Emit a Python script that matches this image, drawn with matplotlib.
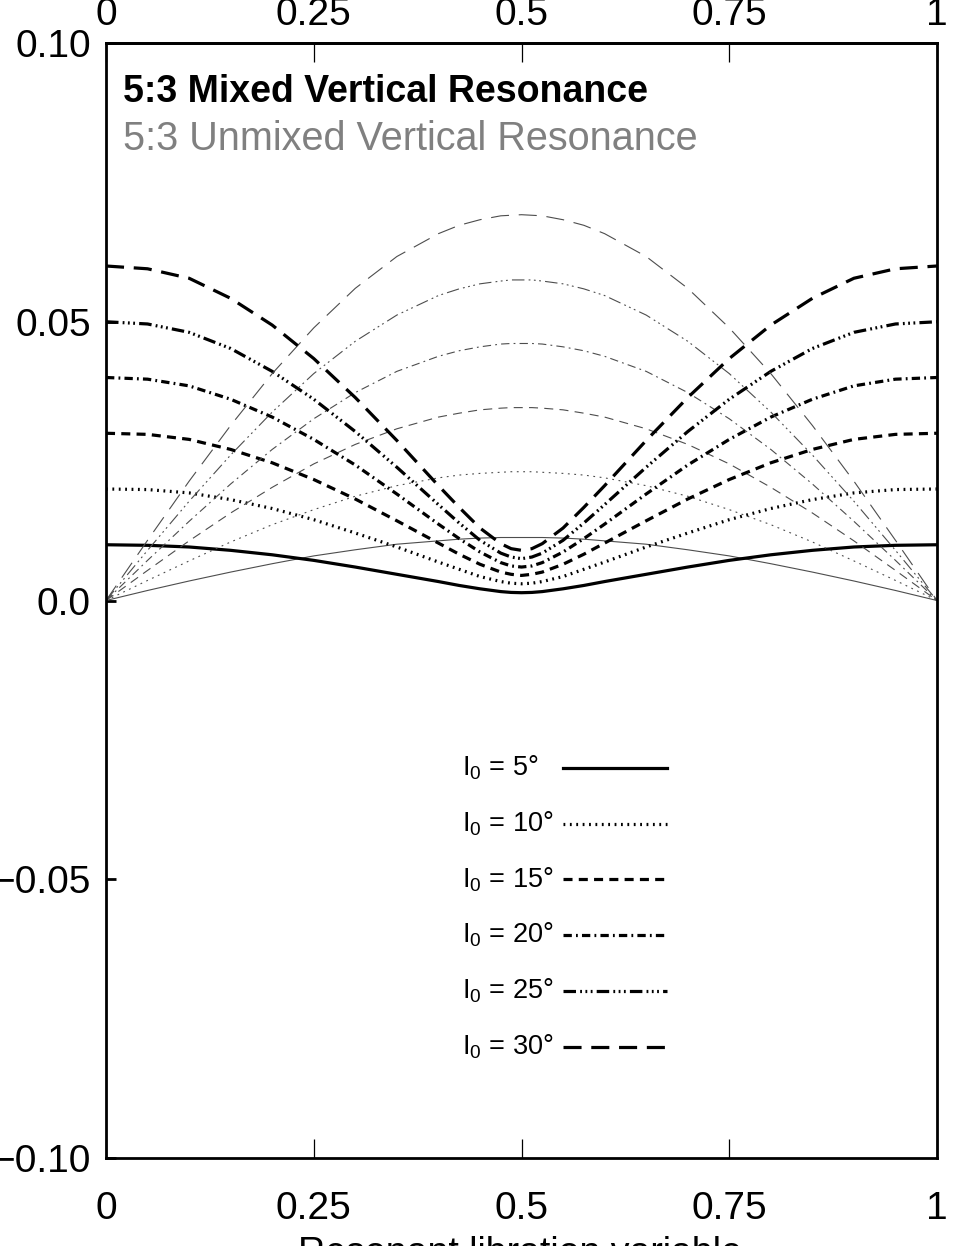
import matplotlib
matplotlib.use("Agg")
import matplotlib.pyplot as plt
from matplotlib.ticker import FixedLocator, FixedFormatter

plt.rcParams['font.family'] = ['Liberation Sans', 'DejaVu Sans']
plt.rcParams['mathtext.fontset'] = 'custom'
plt.rcParams['mathtext.rm'] = 'Liberation Sans'
plt.rcParams['lines.scale_dashes'] = False

#------------------------------
#   Data
#------------------------------

x_vals = [0.0, 0.05, 0.1, 0.15, 0.2, 0.25, 0.3, 0.35, 0.4, 0.425, 0.45, 0.475, 0.4875, 0.5,
          0.5125, 0.525, 0.55, 0.575, 0.6, 0.65, 0.7, 0.75, 0.8, 0.85, 0.9, 0.95, 1.0]

inclinations = [5, 10, 15, 20, 25, 30]

# mixed resonance (thick curves)
mixed_5 = [0.0100, 0.0099, 0.0096, 0.0090, 0.0082, 0.0072, 0.0060, 0.0047, 0.0034, 0.0027, 0.0021, 0.0016, 0.00145, 0.0014,
           0.00145, 0.0016, 0.0021, 0.0027, 0.0034, 0.0047, 0.0060, 0.0072, 0.0082, 0.0090, 0.0096, 0.0099, 0.0100]
mixed_10 = [0.0200, 0.0199, 0.0193, 0.0181, 0.0165, 0.0145, 0.0121, 0.0096, 0.0069, 0.0056, 0.0043, 0.0034, 0.0031, 0.0030,
            0.0031, 0.0034, 0.0043, 0.0056, 0.0069, 0.0096, 0.0121, 0.0145, 0.0165, 0.0181, 0.0193, 0.0199, 0.0200]
mixed_15 = [0.0300, 0.0298, 0.0289, 0.0271, 0.0247, 0.0217, 0.0182, 0.0143, 0.0103, 0.0083, 0.0065, 0.0051, 0.0047, 0.0045,
            0.0047, 0.0051, 0.0065, 0.0083, 0.0103, 0.0143, 0.0182, 0.0217, 0.0247, 0.0271, 0.0289, 0.0298, 0.0300]
mixed_20 = [0.0400, 0.0397, 0.0385, 0.0361, 0.0329, 0.0289, 0.0243, 0.0191, 0.0137, 0.0111, 0.0087, 0.0068, 0.0062, 0.0060,
            0.0062, 0.0068, 0.0087, 0.0111, 0.0137, 0.0191, 0.0243, 0.0289, 0.0329, 0.0361, 0.0385, 0.0397, 0.0400]
mixed_25 = [0.0500, 0.0496, 0.0481, 0.0452, 0.0411, 0.0361, 0.0303, 0.0239, 0.0172, 0.0139, 0.0108, 0.0085, 0.0078, 0.0075,
            0.0078, 0.0085, 0.0108, 0.0139, 0.0172, 0.0239, 0.0303, 0.0361, 0.0411, 0.0452, 0.0481, 0.0496, 0.0500]
mixed_30 = [0.0600, 0.0595, 0.0578, 0.0542, 0.0494, 0.0434, 0.0364, 0.0287, 0.0206, 0.0167, 0.0130, 0.0102, 0.0093, 0.0090,
            0.0093, 0.0102, 0.0130, 0.0167, 0.0206, 0.0287, 0.0364, 0.0434, 0.0494, 0.0542, 0.0578, 0.0595, 0.0600]

# unmixed resonance (thin curves)
unmixed_5 = [0.0, 0.0018, 0.0035, 0.0051, 0.0066, 0.0080, 0.0091, 0.0101, 0.0107, 0.0110, 0.0112, 0.0113, 0.0113, 0.0113,
             0.0113, 0.0113, 0.0112, 0.0110, 0.0107, 0.0101, 0.0091, 0.0080, 0.0066, 0.0051, 0.0035, 0.0018, 0.0]
unmixed_10 = [0.0, 0.0036, 0.0071, 0.0105, 0.0136, 0.0163, 0.0187, 0.0206, 0.0220, 0.0225, 0.0228, 0.0230, 0.0231, 0.0231,
              0.0231, 0.0230, 0.0228, 0.0225, 0.0220, 0.0206, 0.0187, 0.0163, 0.0136, 0.0105, 0.0071, 0.0036, 0.0]
unmixed_15 = [0.0, 0.0054, 0.0107, 0.0157, 0.0203, 0.0245, 0.0280, 0.0308, 0.0329, 0.0336, 0.0342, 0.0345, 0.0346, 0.0346,
              0.0346, 0.0345, 0.0342, 0.0336, 0.0329, 0.0308, 0.0280, 0.0245, 0.0203, 0.0157, 0.0107, 0.0054, 0.0]
unmixed_20 = [0.0, 0.0072, 0.0142, 0.0209, 0.0271, 0.0326, 0.0373, 0.0411, 0.0438, 0.0448, 0.0455, 0.0460, 0.0461, 0.0461,
              0.0461, 0.0460, 0.0455, 0.0448, 0.0438, 0.0411, 0.0373, 0.0326, 0.0271, 0.0209, 0.0142, 0.0072, 0.0]
unmixed_25 = [0.0, 0.0090, 0.0178, 0.0261, 0.0338, 0.0407, 0.0465, 0.0512, 0.0547, 0.0559, 0.0568, 0.0573, 0.0575, 0.0575,
              0.0575, 0.0573, 0.0568, 0.0559, 0.0547, 0.0512, 0.0465, 0.0407, 0.0338, 0.0261, 0.0178, 0.0090, 0.0]
unmixed_30 = [0.0, 0.0108, 0.0214, 0.0314, 0.0407, 0.0489, 0.0560, 0.0617, 0.0658, 0.0673, 0.0683, 0.0690, 0.0691, 0.0692,
              0.0691, 0.0690, 0.0683, 0.0673, 0.0658, 0.0617, 0.0560, 0.0489, 0.0407, 0.0314, 0.0214, 0.0108, 0.0]

mixed = [mixed_5, mixed_10, mixed_15, mixed_20, mixed_25, mixed_30]
unmixed = [unmixed_5, unmixed_10, unmixed_15, unmixed_20, unmixed_25, unmixed_30]

x_ticks = [0, 0.25, 0.5, 0.75, 1]
x_labels = ['0', '0.25', '0.5', '0.75', '1']
y_ticks = [-0.10, -0.05, 0.0, 0.05, 0.10]
y_labels = ['\u22120.10', '\u22120.05', '0.0', '0.05', '0.10']

# line styles, one per inclination
styles = ['-',
          (0, (1.3, 3.3)),
          (0, (6.5, 4.5)),
          (0, (6, 3, 1.3, 3)),
          (0, (9, 3, 1.3, 2.5, 1.3, 2.5, 1.3, 3)),
          (0, (13, 7))]

#------------------------------
#   Plot
#------------------------------

fig = plt.figure(figsize=(9.69, 12.46), dpi=100)
ax = fig.add_axes([0.1094, 0.0706, 0.8576, 0.8949])

for i in range(len(inclinations)):
    ax.plot(x_vals, unmixed[i], color='0.3', linewidth=0.8, linestyle=styles[i])
    ax.plot(x_vals, mixed[i], color='black', linewidth=2.3, linestyle=styles[i])

ax.set_xlim(0, 1)
ax.set_ylim(-0.10, 0.10)

ax.xaxis.set_major_locator(FixedLocator(x_ticks))
ax.xaxis.set_major_formatter(FixedFormatter(x_labels))
ax.yaxis.set_major_locator(FixedLocator(y_ticks))
ax.yaxis.set_major_formatter(FixedFormatter(y_labels))

ax.tick_params(axis='x', direction='in', length=14, width=0.9, top=True,
               labelsize=28, pad=24)
ax.tick_params(axis='y', direction='in', length=7, width=2, labelsize=28, pad=11)

for s in ax.spines.values():
    s.set_linewidth(2)

# tick labels on top
top = ax.secondary_xaxis('top')
top.xaxis.set_major_locator(FixedLocator(x_ticks))
top.xaxis.set_major_formatter(FixedFormatter(x_labels))
top.tick_params(length=0, labelsize=28, pad=7)
top.spines['top'].set_linewidth(2)

# titles
ax.text(0.02, 0.947, '5:3 Mixed Vertical Resonance', transform=ax.transAxes,
        fontsize=27, fontweight='bold', color='black', va='baseline')
ax.text(0.02, 0.904, '5:3 Unmixed Vertical Resonance', transform=ax.transAxes,
        fontsize=28.5, color='#808080', va='baseline')

# legend by hand
leg_y = [-0.03, -0.04, -0.05, -0.06, -0.07, -0.08]
for i in range(len(inclinations)):
    ax.text(0.428, leg_y[i], r'$\mathrm{I}_0$ = ' + str(inclinations[i]) + '\u00b0',
            fontsize=19.5, va='center', ha='left')
    ax.plot([0.55, 0.675], [leg_y[i], leg_y[i]], color='black', linewidth=2.3,
            linestyle=styles[i])

fig.text(0.537, 0.0082, 'Resonant libration variable', ha='center', va='top',
         fontsize=27)

fig.savefig('out.png', dpi=100)
